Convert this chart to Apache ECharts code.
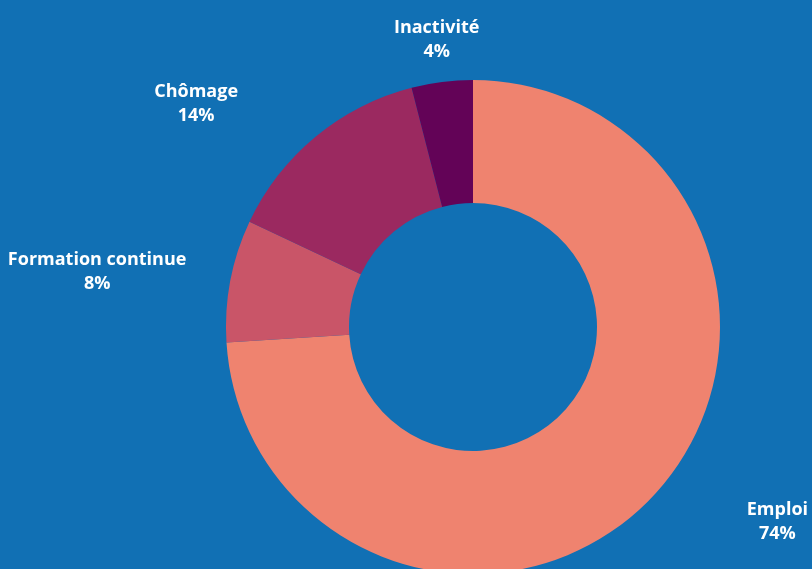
<!DOCTYPE html>
<html>
<head>
<meta charset="utf-8">
<script src="https://cdn.jsdelivr.net/npm/echarts@6/dist/echarts.min.js"></script>
<style>
html,body{margin:0;padding:0;background:#1170b4;}
#chart{width:812px;height:569px;}
</style>
</head>
<body>
<div id="chart"></div>
<script>
var categories = ['Emploi', 'Formation continue', 'Chômage', 'Inactivité'];
var values = [74, 8, 14, 4];
var colors = ['#ef836f', '#c95568', '#9b2960', '#630357'];
var labelShift = [[88, -4], [-86, -1], [-87, 0], [5, 1]];

var chart = echarts.init(document.getElementById('chart'));
chart.setOption({
  backgroundColor: '#1170b4',
  animation: false,
  series: [{
    type: 'pie',
    center: [473, 327],
    radius: [124, 247],
    startAngle: 90,
    clockwise: true,
    avoidLabelOverlap: false,
    data: categories.map(function (c, i) {
      return { name: c, value: values[i], itemStyle: { color: colors[i] } };
    }),
    label: {
      show: true,
      position: 'outside',
      formatter: '{b}\n{d}%',
      color: '#ffffff',
      fontFamily: 'Open Sans',
      fontWeight: 'bold',
      fontSize: 18,
      lineHeight: 24,
      distanceToLabelLine: 5
    },
    labelLine: { show: false, length: 43, length2: 0 },
    labelLayout: function (p) {
      var s = labelShift[p.dataIndex];
      return { dx: s[0], dy: s[1], align: 'center' };
    },
    emphasis: { disabled: true }
  }]
});
</script>
</body>
</html>
